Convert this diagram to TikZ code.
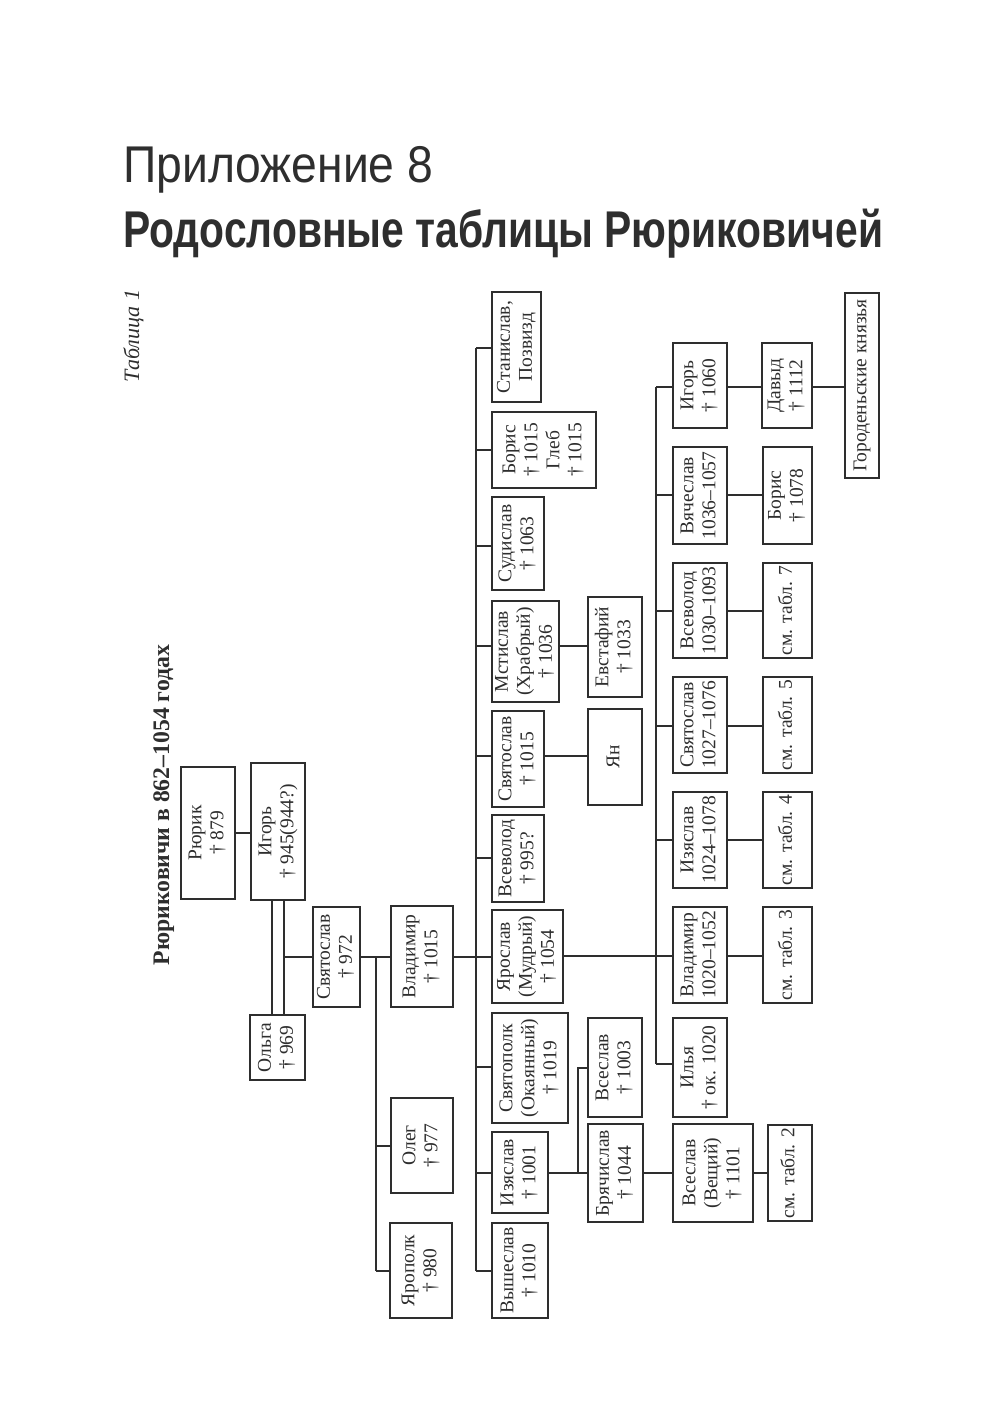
\documentclass[tikz,border=0pt]{standalone}
\usepackage{fontspec}
\setmainfont{Liberation Serif}
\newfontfamily\hsans{Liberation Sans}
\usepackage{graphicx}
\definecolor{ink}{HTML}{2E2E2E}
\tikzset{
  box/.style={draw=ink, line width=1.4pt, inner sep=0pt, outer sep=0pt, text=ink,
              font=\fontsize{19.5}{22}\selectfont},
  conn/.style={draw=ink, line width=1.4pt}
}
\newcommand\gbox[6]{\node[box, minimum width={#4pt-#2pt}, minimum height={#5pt-#3pt}] (#1) at ({(#2+#4)/2},{(#3+#5)/2}) {\rotatebox{90}{\begin{tabular}{@{}c@{}}#6\end{tabular}}};}
\newcommand\hlink[3]{\path (0,#3) coordinate (hy); \draw[conn] (#1.east |- hy) -- (#2.west |- hy);}
\newcommand\tbranch[3]{\path (#1,#2) coordinate (tp); \draw[conn] (tp) -- (tp -| #3.west);}
\begin{document}
\begin{tikzpicture}[x=1pt,y=-1pt]
\fill[white] (0,0) rectangle (1000,1418);
\useasboundingbox (0,0) rectangle (1000,1418);

% headings
\node[anchor=base west, inner sep=0pt, text=ink] (h1) at (123,182)
  {\hsans\fontsize{52}{60}\selectfont\resizebox{310pt}{37pt}{\raisebox{0pt}[0.716em][0pt]{Приложение 8}}};
\node[anchor=base west, inner sep=0pt, text=ink] (h2) at (123,247)
  {\hsans\bfseries\fontsize{52}{60}\selectfont\resizebox{760pt}{37pt}{\raisebox{0pt}[0.716em][0pt]{Родословные таблицы Рюриковичей}}};
\node[rotate=90, anchor=base, inner sep=0pt, text=ink] (tab) at (139,336)
  {\itshape\fontsize{22}{26}\selectfont Таблица 1};
\node[rotate=90, anchor=base, inner sep=0pt, text=ink] (ttl) at (169,805)
  {\bfseries\fontsize{24}{28}\selectfont\resizebox{320pt}{!}{Рюриковичи в 862–1054 годах}};

% boxes: name, x1, y1, x2, y2, text
\gbox{rurik}{181}{767}{235}{899}{Рюрик\\† 879}
\gbox{igor}{251}{763}{305}{900}{Игорь\\† 945(944?)}
\gbox{olga}{250}{1015}{305}{1080}{Ольга\\† 969}
\gbox{svk}{313}{907}{360}{1007}{Святослав\\† 972}
\gbox{vlad}{391}{906}{453}{1007}{Владимир\\† 1015}
\gbox{oleg}{391}{1098}{453}{1193}{Олег\\† 977}
\gbox{yaropolk}{390}{1223}{452}{1318}{Ярополк\\† 980}

\gbox{stanislav}{492}{292}{541}{402}{Станислав,\\Позвизд}
\gbox{borisgleb}{492}{412}{596}{488}{Борис\\† 1015\\Глеб\\† 1015}
\gbox{sudislav}{492}{497}{544}{590}{Судислав\\† 1063}
\gbox{mstislav}{492}{601}{559}{702}{Мстислав\\(Храбрый)\\† 1036}
\gbox{svk1015}{492}{711}{544}{807}{Святослав\\† 1015}
\gbox{vsev995}{492}{815}{544}{902}{Всеволод\\† 995?}
\gbox{yaroslav}{492}{910}{563}{1003}{Ярослав\\(Мудрый)\\† 1054}
\gbox{svyatopolk}{492}{1013}{568}{1123}{Святополк\\(Окаянный)\\† 1019}
\gbox{izy1001}{492}{1132}{548}{1213}{Изяслав\\† 1001}
\gbox{vysheslav}{492}{1223}{548}{1318}{Вышеслав\\† 1010}

\gbox{evstafy}{588}{597}{642}{697}{Евстафий\\† 1033}
\gbox{yan}{588}{709}{642}{805}{Ян}
\gbox{vses1003}{588}{1018}{642}{1117}{Всеслав\\† 1003}
\gbox{bryach}{588}{1124}{643}{1222}{Брячислав\\† 1044}

\gbox{igor1060}{673}{343}{727}{428}{Игорь\\† 1060}
\gbox{vyach}{673}{447}{727}{544}{Вячеслав\\1036–1057}
\gbox{vsev1030}{673}{563}{727}{658}{Всеволод\\1030–1093}
\gbox{svk1027}{673}{677}{727}{773}{Святослав\\1027–1076}
\gbox{izy1024}{673}{792}{727}{888}{Изяслав\\1024–1078}
\gbox{vlad1020}{673}{907}{727}{1003}{Владимир\\1020–1052}
\gbox{ilya}{673}{1018}{727}{1117}{Илья\\† ок. 1020}
\gbox{vseslavV}{673}{1124}{753}{1222}{Всеслав\\(Вещий)\\† 1101}

\gbox{davyd}{762}{343}{812}{428}{Давыд\\† 1112}
\gbox{boris1078}{763}{447}{812}{544}{Борис\\† 1078}
\gbox{tabl7}{763}{563}{812}{658}{см. табл. 7}
\gbox{tabl5}{763}{677}{812}{773}{см. табл. 5}
\gbox{tabl4}{763}{792}{812}{888}{см. табл. 4}
\gbox{tabl3}{763}{907}{812}{1003}{см. табл. 3}
\gbox{tabl2}{768}{1125}{812}{1221}{см. табл. 2}
\gbox{gorod}{845}{293}{879}{478}{Городеньские князья}

% connectors, left part
\hlink{rurik}{igor}{833}
\path (272,0) coordinate (vxa) (284,0) coordinate (vxb);
\draw[conn] (vxa |- igor.south) -- (vxa |- olga.north);
\draw[conn] (vxb |- igor.south) -- (vxb |- olga.north);
\tbranch{284}{957}{svk}
\hlink{svk}{vlad}{957}
\coordinate (s1top) at (376,957);
\coordinate (s1bot) at (376,1271);
\draw[conn] (s1top) -- (s1bot);
\tbranch{376}{1146}{oleg}
\tbranch{376}{1271}{yaropolk}

% Vladimir's children
\coordinate (t1mid) at (476,957);
\draw[conn] (vlad.east |- t1mid) -- (t1mid);
\coordinate (t1top) at (476,348);
\coordinate (t1bot) at (476,1271);
\draw[conn] (t1top) -- (t1bot);
\tbranch{476}{348}{stanislav}
\tbranch{476}{450}{borisgleb}
\tbranch{476}{546}{sudislav}
\tbranch{476}{646}{mstislav}
\tbranch{476}{756}{svk1015}
\tbranch{476}{858}{vsev995}
\tbranch{476}{957}{yaroslav}
\tbranch{476}{1067}{svyatopolk}
\tbranch{476}{1173}{izy1001}
\tbranch{476}{1271}{vysheslav}

\hlink{mstislav}{evstafy}{646}
\hlink{svk1015}{yan}{756}

% Izyaslav's line
\hlink{izy1001}{bryach}{1173}
\coordinate (p1top) at (578,1068);
\coordinate (p1bot) at (578,1173);
\draw[conn] (p1bot) -- (p1top) -- (p1top -| vses1003.west);
\hlink{bryach}{vseslavV}{1173}
\hlink{vseslavV}{tabl2}{1173}

% Yaroslav's children
\hlink{yaroslav}{vlad1020}{956}
\coordinate (t2top) at (656,387);
\coordinate (t2bot) at (656,1064);
\draw[conn] (t2top) -- (t2bot);
\tbranch{656}{387}{igor1060}
\tbranch{656}{495}{vyach}
\tbranch{656}{611}{vsev1030}
\tbranch{656}{726}{svk1027}
\tbranch{656}{840}{izy1024}
\tbranch{656}{1064}{ilya}

\hlink{igor1060}{davyd}{387}
\hlink{davyd}{gorod}{387}
\hlink{vyach}{boris1078}{495}
\hlink{vsev1030}{tabl7}{611}
\hlink{svk1027}{tabl5}{726}
\hlink{izy1024}{tabl4}{840}
\hlink{vlad1020}{tabl3}{956}
\end{tikzpicture}
\end{document}
